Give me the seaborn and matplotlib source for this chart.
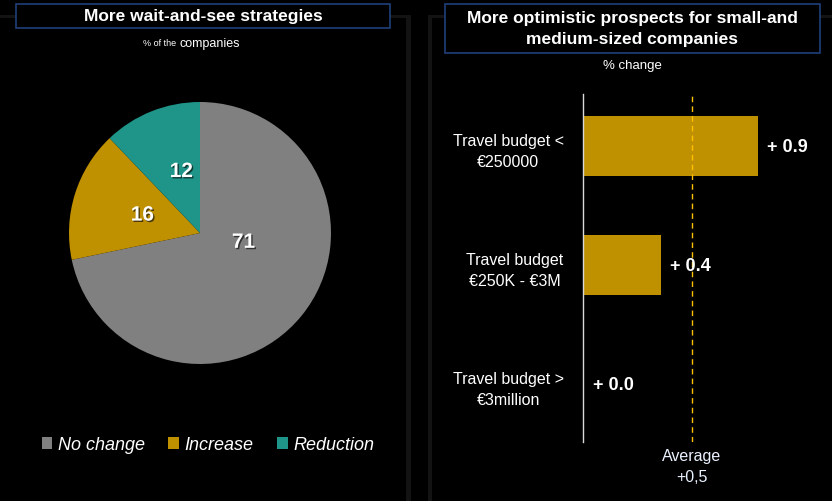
import matplotlib
matplotlib.use("Agg")
import matplotlib.pyplot as plt
import matplotlib.patheffects as pe
from matplotlib.patches import Patch, Rectangle
import seaborn as sns
import numpy as np

# data
pie_labels = ["No change", "Increase", "Reduction"]
pie_values = [71, 16, 12]
pie_colors = ["#808080", "#BF9000", "#1F9488"]

bar_labels = ["Travel budget <\n€250000", "Travel budget\n€250K - €3M", "Travel budget >\n€3million"]
bar_values = [0.9, 0.4, 0.0]
bar_texts = ["+ 0.9", "+ 0.4", "+ 0.0"]
avg_value = 0.56
avg_text = "Average\n+0,5"

sns.set_theme(style="dark")
plt.rcParams["font.family"] = ["Liberation Sans", "DejaVu Sans"]

W, H = 832, 502
fig = plt.figure(figsize=(W / 100, H / 100), dpi=100, facecolor="black")


def fx(px):
    return px / W


def fy(py):
    return 1 - py / H


# panel glow
for x0, w in [(406, 5), (428, 4)]:
    fig.patches.append(Rectangle((fx(x0), 0), fx(w), fy(16), transform=fig.transFigure,
                                 facecolor="#131313", edgecolor="none", zorder=0))
for x0, x1 in [(0, 411), (428, 832)]:
    fig.patches.append(Rectangle((fx(x0), fy(19)), fx(x1 - x0), 3 / H, transform=fig.transFigure,
                                 facecolor="#131313", edgecolor="none", zorder=0))

# title boxes
fig.patches.append(Rectangle((fx(16), fy(29)), fx(374), 24 / H, transform=fig.transFigure,
                             facecolor="black", edgecolor="#1F3F7A", lw=1.2, zorder=1))
fig.patches.append(Rectangle((fx(445), fy(54)), fx(375), 49 / H, transform=fig.transFigure,
                             facecolor="black", edgecolor="#1F3F7A", lw=1.2, zorder=1))
fig.text(fx(203), fy(17), "More wait-and-see strategies", color="white", fontsize=12.5,
         fontweight="bold", ha="center", va="center")
fig.text(fx(632), fy(29), "More optimistic prospects for small-and\nmedium-sized companies",
         color="white", fontsize=12.5, fontweight="bold", ha="center", va="center",
         linespacing=1.45)
fig.text(fx(176), fy(44), "% of the", color="white", fontsize=6.5, ha="right", va="center")
fig.text(fx(179), fy(44), "companies", color="white", fontsize=9, ha="left", va="center")
fig.text(fx(632), fy(66), "% change", color="white", fontsize=9.5, ha="center", va="center")

# pie
ax1 = fig.add_axes([fx(69), fy(365), fx(262), 262 / H])
wedges, _ = ax1.pie(pie_values, colors=pie_colors, startangle=90, counterclock=False,
                    radius=1, wedgeprops=dict(linewidth=0))
ax1.set_xlim(-1, 1)
ax1.set_ylim(-1, 1)
ax1.set_aspect("equal")
ax1.axis("off")
label_r = [0.34, 0.46, 0.49]
label_turn = [27, 0, -5]
for w, v, r, a in zip(wedges, pie_values, label_r, label_turn):
    ang = np.deg2rad((w.theta1 + w.theta2) / 2 + a)
    ax1.text(r * np.cos(ang), r * np.sin(ang), str(v), color="white", fontsize=15,
             fontweight="bold", ha="center", va="center",
             path_effects=[pe.withSimplePatchShadow(offset=(1, -1), shadow_rgbFace="black", alpha=0.6)])

handles = [Patch(facecolor=c, edgecolor="none") for c in pie_colors]
leg = fig.legend(handles, pie_labels, loc="center", bbox_to_anchor=(fx(208), fy(446)), ncol=3,
                 frameon=False, handlelength=0.6, handleheight=0.6, handletextpad=0.3,
                 columnspacing=1.3, prop=dict(size=13, style="italic"))
for t in leg.get_texts():
    t.set_color("white")

# bars
ax2 = fig.add_axes([fx(583), fy(443), fx(233), 348 / H])
ax2.set_facecolor("black")
sns.barplot(x=bar_values, y=bar_labels, orient="h", color="#BF9000", width=0.5,
            saturation=1, linewidth=0, ax=ax2)
ax2.set_xlim(0, 1.2)
ax2.set_ylim(2.487, -0.437)
ax2.axvline(avg_value, color="#FFC000", lw=1, ls=(0, (4, 3)))
for i, (v, t) in enumerate(zip(bar_values, bar_texts)):
    ax2.text(v + 0.05, i, t, color="white", fontsize=13, fontweight="bold", ha="left",
             va="center")
ax2.text(avg_value, 2.54, avg_text, color="#EAF2FF", fontsize=11.5, ha="center", va="top",
         linespacing=1.45, clip_on=False)
ax2.set_xticks([])
ax2.tick_params(axis="y", length=0, pad=14, colors="white", labelsize=11.5)
for lab in ax2.get_yticklabels():
    lab.set_multialignment("center")
    lab.set_linespacing(1.55)
for s in ["top", "right", "bottom"]:
    ax2.spines[s].set_visible(False)
ax2.spines["left"].set_visible(True)
ax2.spines["left"].set_color("#D9D9D9")
ax2.spines["left"].set_linewidth(1)
ax2.grid(False)
ax2.set_xlabel("")
ax2.set_ylabel("")

fig.savefig("out.png", dpi=100, facecolor="black")
